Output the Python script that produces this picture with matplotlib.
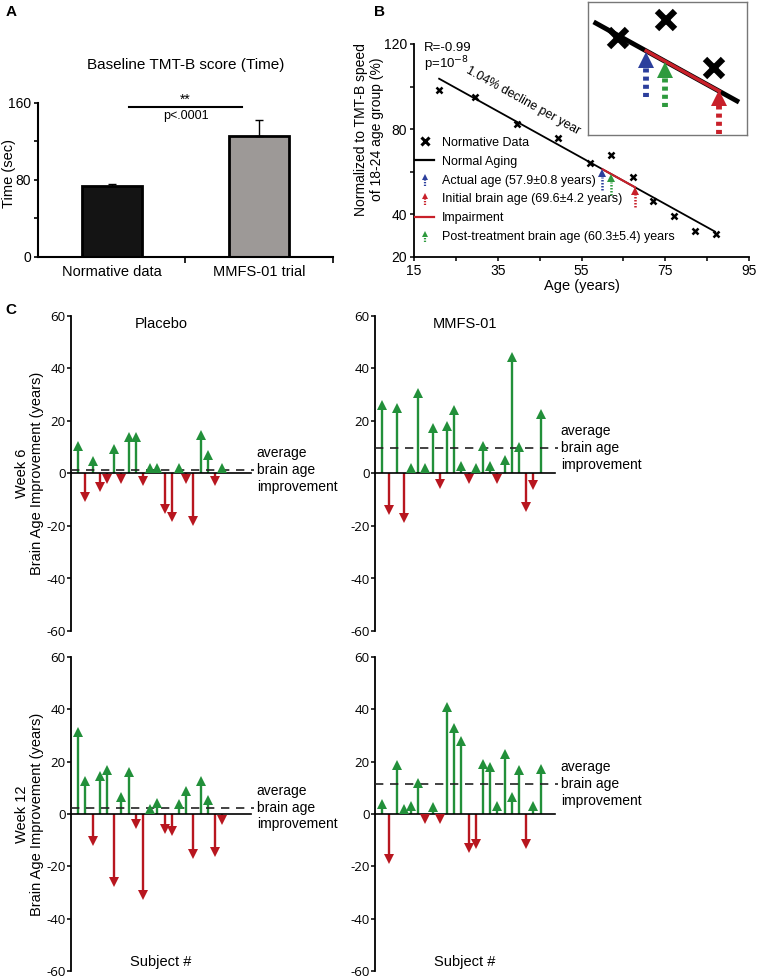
import matplotlib
matplotlib.use('Agg')
import numpy as np
import matplotlib.pyplot as plt
from matplotlib.lines import Line2D
from matplotlib.legend_handler import HandlerBase

plt.rcParams['font.family'] = ['Liberation Sans', 'DejaVu Sans']
plt.rcParams['axes.unicode_minus'] = False

# ---- Panel A data ----
groups = ['Normative data', 'MMFS-01 trial']
tmt_time = [74, 126]
tmt_err = [1.5, 16]

# ---- Panel B data ----
norm_age = [21.0, 29.6, 39.7, 49.5, 57.0, 62.1, 67.2, 72.1, 77.1, 82.2, 87.2]
norm_speed = [98.6, 95.2, 82.5, 75.7, 64.0, 67.8, 57.7, 46.4, 39.3, 32.3, 30.6]
fit_age = [21.0, 86.9]
fit_speed = [103.7, 31.9]
impair_age = [60.0, 67.8]
arrow_age = [60.0, 62.0, 67.8]
arrow_tip = [61.0, 58.8, 53.0]
arrow_base = [51.6, 49.3, 43.7]
inset_age = [54.4, 69.9]

# ---- Panel C data (brain age improvement, years) ----
placebo_wk6 = [12.4, -10.8, 6.6, -7.3, -3.5, 11.4, -3.5, 15.8, 15.8, -4.8, 3.5,
               3.5, -15.4, -18.7, 3.5, -3.5, -20.0, 16.5, 9.0, -5.0, 3.5]
mmfs_wk6 = [28.0, -16.0, 27.0, -19.0, 4.0, 32.5, 4.0, 19.5, -6.0, 20.0, 26.0, 4.7,
            -4.0, 4.0, 12.6, 4.7, -4.0, 7.3, 46.5, 12.0, -14.6, -6.4, 24.5]
placebo_wk12 = [33.2, 14.6, -12.3, 16.6, 18.9, -28.0, 8.3, 18.1, -5.8, -33.0, 4.0,
                6.3, -7.9, -8.3, 5.9, 10.6, -17.4, 14.7, 7.2, -16.7, -4.2]
mmfs_wk12 = [6.0, -19.0, 20.6, 4.0, 5.0, 13.7, -4.0, 4.5, -4.0, 43.0, 35.0, 30.0,
             -15.0, -13.5, 21.0, 20.0, 5.0, 25.0, 8.6, 18.7, -13.5, 5.0, 19.0]
avg_improve = [1.3, 9.8, 2.4, 11.4]

GREEN = '#22903a'
RED = '#b8161f'
BLUE = '#2c3f9c'
BGREEN = '#2e9a3e'
BRED = '#c8202a'

fig = plt.figure(figsize=(7.57, 9.80), dpi=100)
W, H = 757, 980


def axes_px(left, top, right, bottom):
    return fig.add_axes([left / W, 1 - bottom / H, (right - left) / W, (bottom - top) / H])


def pts_to_data_y(ax, pts):
    h_px = ax.get_position().height * fig.get_figheight() * fig.dpi
    y0, y1 = ax.get_ylim()
    return pts * fig.dpi / 72 / h_px * (y1 - y0)


# ================= Panel A =================
axA = axes_px(38, 103, 333, 257)
xa = np.arange(len(groups))
axA.bar(xa, tmt_time, width=0.41, color=['#141414', '#9d9997'], edgecolor='k', linewidth=2)
axA.errorbar(xa, tmt_time, yerr=[[0, 0], tmt_err], fmt='none', ecolor='k', elinewidth=1, capsize=3)
axA.set_xlim(-0.5, 1.5)
axA.set_ylim(0, 160)
axA.set_yticks([0, 40, 80, 120, 160])
axA.set_yticklabels(['0', '', '80', '', '160'], fontsize=10)
axA.set_xticks(xa)
axA.set_xticklabels(groups, fontsize=10.5)
axA.set_xticks([0.5, 1.5], minor=True)
axA.tick_params(axis='x', which='major', length=0, pad=6)
axA.tick_params(axis='x', which='minor', length=4, width=1.2)
axA.tick_params(axis='y', length=3, width=1.2, pad=2)
for s in ['top', 'right']:
    axA.spines[s].set_visible(False)
for s in ['left', 'bottom']:
    axA.spines[s].set_linewidth(1.5)
axA.plot([0.115, 0.885], [156, 156], color='k', lw=1.5, clip_on=False)
axA.text(0.5, 163, '**', ha='center', va='center', fontsize=10)
axA.text(0.5, 146, 'p<.0001', ha='center', va='center', fontsize=9)
axA.text(0.5, 1.247, 'Baseline TMT-B score (Time)', transform=axA.transAxes,
         ha='center', va='center', fontsize=11)
axA.text(-0.10, 0.545, 'Time (sec)', transform=axA.transAxes, rotation=90,
         ha='center', va='center', fontsize=10.5)
fig.text(6 / W, 1 - 12 / H, 'A', fontsize=11, fontweight='bold', va='center')


# ================= Panel B =================
def draw_b_arrows(ax, ms, lw, dash):
    head = pts_to_data_y(ax, ms)
    for x, tip, base, col in zip(arrow_age, arrow_tip, arrow_base, [BLUE, BGREEN, BRED]):
        ax.plot([x, x], [base, tip - head], color=col, lw=lw, ls=(0, dash),
                solid_capstyle='butt', dash_capstyle='butt')
        ax.plot(x, tip - head / 2, marker='^', ms=ms, color=col, mew=0, zorder=5)


axB = axes_px(414, 44, 749, 257)
axB.set_xlim(15, 95)
axB.set_ylim(20, 120)
axB.plot(fit_age, fit_speed, color='k', lw=1.3)
axB.plot(impair_age, np.interp(impair_age, fit_age, fit_speed), color=BRED, lw=1.5)
axB.plot(norm_age, norm_speed, ls='none', marker='x', color='k', ms=5, mew=1.8)
draw_b_arrows(axB, 5.5, 1.8, (0.6, 0.6))
axB.set_xticks([15, 35, 55, 75, 95])
axB.set_xticks([25, 45, 65, 85], minor=True)
axB.set_yticks([20, 40, 80, 120])
axB.set_yticks([60, 100], minor=True)
axB.tick_params(labelsize=10, length=3, width=1.1, pad=2)
axB.tick_params(which='minor', length=3, width=1.1)
for s in ['top', 'right']:
    axB.spines[s].set_visible(False)
for s in ['left', 'bottom']:
    axB.spines[s].set_linewidth(1.3)
axB.set_xlabel('Age (years)', fontsize=10.5, labelpad=1)
axB.text(-0.135, 0.6, 'Normalized to TMT-B speed\nof 18-24 age group (%)', transform=axB.transAxes,
         rotation=90, ha='center', va='center', fontsize=10, linespacing=1.15)
axB.text(17.3, 118, 'R=-0.99', fontsize=9.5, va='center')
axB.text(17.3, 110.5, 'p=10$^{-8}$', fontsize=9.5, va='center')
axB.text(41.0, 93.5, '1.04% decline per year', rotation=-29, fontsize=9,
         ha='center', va='center')


class ArrowHandler(HandlerBase):
    def create_artists(self, legend, orig_handle, xdescent, ydescent, width, height, fontsize, trans):
        col = orig_handle.get_color()
        cx = width * 0.5 - xdescent
        tail = Line2D([cx, cx], [-ydescent - 0.25 * height, 0.45 * height - ydescent], color=col,
                      lw=1.6, ls=(0, (0.6, 0.6)), transform=trans)
        head = Line2D([cx], [0.72 * height - ydescent], marker='^', ms=5, mew=0, color=col,
                      transform=trans)
        return [tail, head]


h_norm = Line2D([], [], ls='none', marker='x', color='k', ms=6, mew=2.2)
h_aging = Line2D([], [], color='k', lw=1.6)
h_actual = Line2D([], [], color=BLUE)
h_initial = Line2D([], [], color=BRED)
h_impair = Line2D([], [], color=BRED, lw=1.6)
h_post = Line2D([], [], color=BGREEN)
axB.legend([h_norm, h_aging, h_actual, h_initial, h_impair, h_post],
           ['Normative Data', 'Normal Aging', 'Actual age (57.9±0.8 years)',
            'Initial brain age (69.6±4.2 years)', 'Impairment',
            'Post-treatment brain age (60.3±5.4) years'],
           handler_map={h_actual: ArrowHandler(), h_initial: ArrowHandler(), h_post: ArrowHandler()},
           loc='upper left', bbox_to_anchor=(0.0, 0.57), frameon=False, fontsize=9,
           handlelength=1.5, handletextpad=0.6, labelspacing=0.55, borderaxespad=0, borderpad=0.1)

# inset: magnified view of the impairment region
axI = axes_px(588, 2, 747, 135)
axI.set_xlim(53.8, 70.75)
axI.set_ylim(43.5, 71.5)
axI.plot(inset_age, np.interp(inset_age, fit_age, fit_speed), color='k', lw=3.5, solid_capstyle='butt')
axI.plot(impair_age, np.interp(impair_age, fit_age, fit_speed), color=BRED, lw=2.5)
axI.plot(norm_age, norm_speed, ls='none', marker='x', color='k', ms=13, mew=4.5)
draw_b_arrows(axI, 11, 4.2, (0.7, 0.7))
axI.set_xticks([])
axI.set_yticks([])
for s in axI.spines.values():
    s.set_color('#777777')
    s.set_linewidth(1.0)
fig.text(374 / W, 1 - 12 / H, 'B', fontsize=11, fontweight='bold', va='center')


# ================= Panel C =================
def draw_c(ax, vals, avg):
    ax.set_xlim(0, 40)
    ax.set_ylim(-60, 60)
    head = pts_to_data_y(ax, 7.5)
    vals = np.asarray(vals)
    subj = np.arange(1, len(vals) + 1)
    sign = np.sign(vals)
    centre = sign * (np.maximum(np.abs(vals), head) - head / 2)
    for x, v, c in zip(subj, vals, centre):
        col = GREEN if v > 0 else RED
        ax.plot([x, x], [0, c], color=col, lw=1.7, solid_capstyle='butt')
        ax.plot(x, c, marker='^' if v > 0 else 'v', ms=7.5, color=col, mew=0, zorder=4)
    ax.plot([0, 25], [0, 0], color='k', lw=1.2, zorder=3)
    ax.plot([0, 25.4], [avg, avg], color='#222222', lw=1.2, dashes=(5, 4), zorder=3)
    ax.text(25.8, avg, 'average\nbrain age\nimprovement', fontsize=10, va='center',
            ha='left', linespacing=1.25)
    ax.set_yticks(np.arange(-60, 61, 20))
    ax.set_xticks([])
    ax.tick_params(axis='y', length=3, width=1.1, pad=1, labelsize=9.5)
    for lab in ax.get_yticklabels():
        lab.set_family(['Open Sans', 'DejaVu Sans'])
    for s in ['top', 'right', 'bottom']:
        ax.spines[s].set_visible(False)
    ax.spines['left'].set_linewidth(1.3)


ax_p6 = axes_px(71, 316, 359, 631)
ax_m6 = axes_px(375, 316, 663, 631)
ax_p12 = axes_px(71, 657, 359, 971)
ax_m12 = axes_px(375, 657, 663, 971)
draw_c(ax_p6, placebo_wk6, avg_improve[0])
draw_c(ax_m6, mmfs_wk6, avg_improve[1])
draw_c(ax_p12, placebo_wk12, avg_improve[2])
draw_c(ax_m12, mmfs_wk12, avg_improve[3])

ax_p6.text(12.5, 57, 'Placebo', fontsize=10.5, ha='center', va='center')
ax_m6.text(12.5, 57, 'MMFS-01', fontsize=10.5, ha='center', va='center')
ax_p12.text(12.5, -56.5, 'Subject #', fontsize=10.5, ha='center', va='center')
ax_m12.text(12.5, -56.5, 'Subject #', fontsize=10.5, ha='center', va='center')
for ax, wk in [(ax_p6, 'Week 6'), (ax_p12, 'Week 12')]:
    ax.text(-0.145, 0.5, wk + '\nBrain Age Improvement (years)', transform=ax.transAxes,
            rotation=90, ha='center', va='center', fontsize=10.5, linespacing=1.1)
fig.text(5 / W, 1 - 310 / H, 'C', fontsize=11, fontweight='bold', va='center')

fig.savefig('out.png', dpi=100)
